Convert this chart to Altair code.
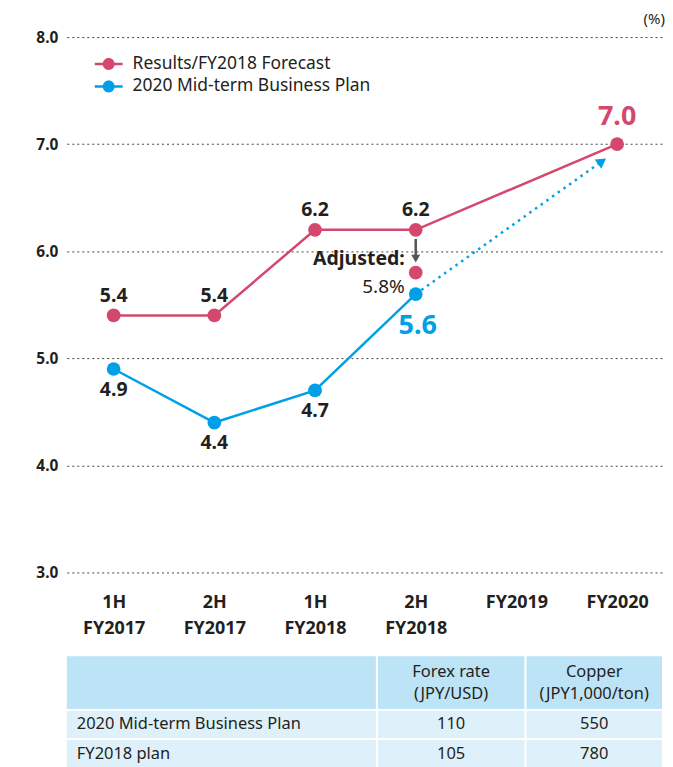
import json
import altair as alt
import pandas as pd

# ---------------- data ----------------
categories = ["1H FY2017", "2H FY2017", "1H FY2018", "2H FY2018", "FY2019", "FY2020"]
series_names = ["Results/FY2018 Forecast", "2020 Mid-term Business Plan"]
results = [5.4, 5.4, 6.2, 6.2, None, 7.0]
plan = [4.9, 4.4, 4.7, 5.6, None, None]
adjusted_index = 3
adjusted_value = 5.8
# dotted projection arrow (plan 2H FY2018 -> towards FY2020), end
proj_end_idx = 4.85
proj_end_value = 6.84
# gray "adjusted" arrow: shaft from/to and head
adj_arrow_from = 6.115
adj_arrow_to = 5.96
adj_arrow_head = 5.93

table_headers = ["", "Forex rate\n(JPY/USD)", "Copper\n(JPY1,000/ton)"]
table_rows = ["2020 Mid-term Business Plan", "FY2018 plan"]
forex = [110, 105]
copper = [550, 780]

# ---------------- style ----------------
PINK = "#D4486E"
BLUE = "#00A0E9"
INK = "#231F20"
FONT = "Noto Sans"
W, H = 598, 537
STEP = 101.0
x_min = -0.465

# ---------------- frames ----------------
rows = []
for i, (r, p) in enumerate(zip(results, plan)):
    if r is not None:
        rows.append({"idx": i, "value": r, "series": series_names[0]})
    if p is not None:
        rows.append({"idx": i, "value": p, "series": series_names[1]})
df = pd.DataFrame(rows)
pts = pd.concat([df, pd.DataFrame([{"idx": adjusted_index, "value": adjusted_value,
                                     "series": series_names[0]}])], ignore_index=True)

res_df = df[df.series == series_names[0]].reset_index(drop=True)
plan_df = df[df.series == series_names[1]].reset_index(drop=True)
res_norm = res_df.iloc[:-1].copy()
res_last = res_df.iloc[-1:].copy()
plan_norm = plan_df.iloc[:-1].copy()
plan_last = plan_df.iloc[-1:].copy()
for d in (res_norm, res_last, plan_norm, plan_last):
    d["label"] = d["value"].map(lambda v: f"{v:.1f}")

last_plan = plan_df.iloc[-1]
proj_df = pd.DataFrame([{"idx": last_plan.idx, "value": last_plan.value},
                        {"idx": proj_end_idx, "value": proj_end_value}])
proj_head = proj_df.iloc[-1:]
adj_rule = pd.DataFrame([{"idx": adjusted_index, "value": adj_arrow_from, "value2": adj_arrow_to}])
adj_head = pd.DataFrame([{"idx": adjusted_index, "value": adj_arrow_head}])
adj_txt = pd.DataFrame([{"idx": adjusted_index, "value": adjusted_value,
                         "t1": "Adjusted:", "t2": f"{adjusted_value:.1f}%"}])

x_scale = alt.Scale(domain=[x_min, x_min + W / STEP], nice=False, zero=False)
y_scale = alt.Scale(domain=[3, 8], nice=False, zero=False)
label_expr = "split(" + json.dumps(categories) + "[datum.value], ' ')"
X = alt.X("idx:Q", scale=x_scale, axis=alt.Axis(
    values=list(range(len(categories))), labelExpr=label_expr, title=None,
    labelFont=FONT, labelFontSize=18, labelFontWeight="bold", labelColor=INK,
    labelLineHeight=26, labelPadding=21, labelBaseline="top",
    domain=False, ticks=False, grid=False))
Y = alt.Y("value:Q", scale=y_scale, axis=alt.Axis(
    values=[3, 4, 5, 6, 7, 8], format=".1f", title=None,
    labelFont=FONT, labelFontSize=15.5, labelFontWeight="bold", labelColor=INK,
    labelPadding=9, domain=False, ticks=False,
    grid=True, gridDash=[2, 3], gridColor="#444", gridWidth=1))

lines = alt.Chart(df).mark_line(strokeWidth=2.5).encode(
    x=X, y=Y,
    stroke=alt.Stroke("series:N", scale=alt.Scale(domain=series_names, range=[PINK, BLUE]), legend=None),
    detail="series:N")

proj = alt.Chart(proj_df).mark_line(strokeWidth=2.5, strokeDash=[2.5, 4.5], color=BLUE).encode(x=X, y=Y)
proj_arrow = alt.Chart(proj_head).mark_point(shape="triangle-up", filled=True, opacity=1,
                                             size=130, angle=54, color=BLUE).encode(x=X, y=Y)

adj_line = alt.Chart(adj_rule).mark_rule(strokeWidth=2.5, color="#555").encode(x=X, y=Y, y2="value2:Q")
adj_arrow = alt.Chart(adj_head).mark_point(shape="triangle-down", filled=True, opacity=1,
                                           size=80, color="#555").encode(x=X, y=Y)

legend_path = ("M-1.27,-0.114H1.27V0.114H-1.27Z "
               "M0.545,0A0.545,0.545 0 1,1 -0.545,0A0.545,0.545 0 1,1 0.545,0Z")
points = alt.Chart(pts).mark_point(filled=True, opacity=1, size=190).encode(
    x=X, y=Y,
    color=alt.Color("series:N", scale=alt.Scale(domain=series_names, range=[PINK, BLUE]),
                    legend=alt.Legend(title=None, orient="none", legendX=31, legendY=16,
                                      symbolType=legend_path, symbolSize=484, symbolStrokeWidth=0,
                                      symbolOpacity=1, labelFont=FONT, labelFontSize=17.5,
                                      labelLimit=0, labelColor=INK, labelOffset=13,
                                      rowPadding=2.5, padding=0)))

lab_res = alt.Chart(res_norm).mark_text(dy=-20, fontSize=19.5, fontWeight="bold", color=INK).encode(
    x=X, y=Y, text="label:N")
lab_res_last = alt.Chart(res_last).mark_text(dy=-27, fontSize=27, fontWeight="bold", color=PINK).encode(
    x=X, y=Y, text="label:N")
lab_plan = alt.Chart(plan_norm).mark_text(dy=21, fontSize=19.5, fontWeight="bold", color=INK).encode(
    x=X, y=Y, text="label:N")
lab_plan_last = alt.Chart(plan_last).mark_text(dy=32, dx=2, fontSize=27, fontWeight="bold", color=BLUE).encode(
    x=X, y=Y, text="label:N")
lab_adj1 = alt.Chart(adj_txt).mark_text(dx=-11, dy=-14, align="right", fontSize=19.5, fontWeight="bold",
                                         color=INK).encode(x=X, y=Y, text="t1:N")
lab_adj2 = alt.Chart(adj_txt).mark_text(dx=-11, dy=14, align="right", fontSize=19,
                                         color=INK).encode(x=X, y=Y, text="t2:N")

unit = alt.Chart(pd.DataFrame({"t": ["(%)"]})).mark_text(
    align="right", baseline="middle", fontSize=15, color=INK).encode(
    text="t:N", x=alt.value(W + 2), y=alt.value(-18))

top = alt.layer(lines, proj, proj_arrow, adj_line, adj_arrow, points,
                lab_res, lab_res_last, lab_plan, lab_plan_last, lab_adj1, lab_adj2, unit
                ).properties(width=W, height=H)

# ---------------- table ----------------
TW, TH = 597, 112
col_edges = [(0, 310), (312, 459), (461, 597)]
row_edges = [(0, 53), (55, 82), (84, 112)]
cells = []
for ri, (y0, y1) in enumerate(row_edges):
    for ci, (x0, x1) in enumerate(col_edges):
        cells.append({"x0": x0, "x1": x1, "y0": y0, "y1": y1, "kind": "head" if ri == 0 else "body"})
cells = pd.DataFrame(cells)

head_txt, body_txt = [], []
for ci, h in enumerate(table_headers):
    if h:
        x0, x1 = col_edges[ci]
        y0, y1 = row_edges[0]
        head_txt.append({"x": (x0 + x1) / 2, "y": (y0 + y1) / 2, "t": h})
for ri, name in enumerate(table_rows):
    y0, y1 = row_edges[ri + 1]
    cy = (y0 + y1) / 2
    body_txt.append({"x": col_edges[0][0] + 10, "y": cy, "t": name, "a": "left"})
    body_txt.append({"x": sum(col_edges[1]) / 2, "y": cy, "t": str(forex[ri]), "a": "center"})
    body_txt.append({"x": sum(col_edges[2]) / 2, "y": cy, "t": str(copper[ri]), "a": "center"})
head_txt = pd.DataFrame(head_txt)
body_txt = pd.DataFrame(body_txt)

tx = alt.Scale(domain=[0, TW], nice=False, zero=False)
ty = alt.Scale(domain=[0, TH], nice=False, zero=False, reverse=True)
TX = lambda f: alt.X(f, scale=tx, axis=None)
TY = lambda f: alt.Y(f, scale=ty, axis=None)
rects = alt.Chart(cells).mark_rect().encode(
    x=TX("x0:Q"), x2="x1:Q", y=TY("y0:Q"), y2="y1:Q",
    color=alt.Color("kind:N", scale=alt.Scale(domain=["head", "body"], range=["#BDE3F7", "#DEF1FB"]),
                    legend=None))
tl = alt.Chart(body_txt[body_txt.a == "left"]).mark_text(
    align="left", baseline="middle", fontSize=16.5, color=INK).encode(x=TX("x:Q"), y=TY("y:Q"), text="t:N")
tc = alt.Chart(body_txt[body_txt.a == "center"]).mark_text(
    align="center", baseline="middle", fontSize=16.5, color=INK).encode(x=TX("x:Q"), y=TY("y:Q"), text="t:N")
th = alt.Chart(head_txt).mark_text(
    align="center", baseline="middle", fontSize=16.5, color=INK, lineBreak="\n", lineHeight=22,
    dy=-11).encode(x=TX("x:Q"), y=TY("y:Q"), text="t:N")
table = alt.layer(rects, tl, tc, th).properties(width=TW, height=TH)

chart = alt.vconcat(top, table, spacing=84, bounds="flush").resolve_scale(color="independent").properties(
    padding={"left": 27, "top": 3, "right": 0, "bottom": 0}
).configure(font=FONT).configure_view(stroke=None)

chart.save("out.html", embed_options={"renderer": "svg", "actions": False})
